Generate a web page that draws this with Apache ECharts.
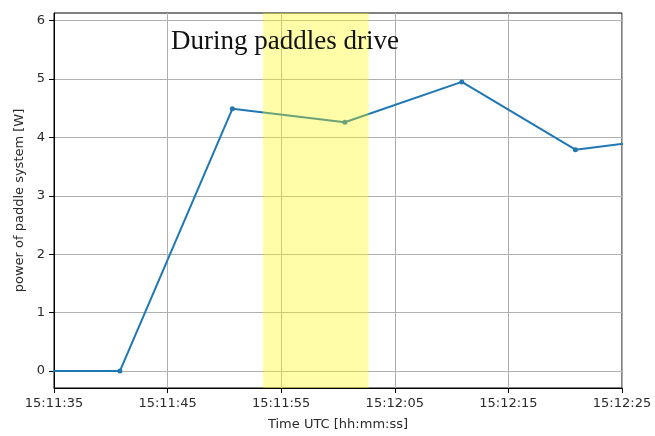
<!DOCTYPE html>
<html>
<head>
<meta charset="utf-8">
<script src="https://cdn.jsdelivr.net/npm/echarts@6/dist/echarts.min.js"></script>
<style>html,body{margin:0;padding:0;background:#fff;}#c{width:655px;height:436px;}</style>
</head>
<body>
<div id="c"></div>
<script>
// Data
var baseTime = "15:11:35";
var times = ["15:11:30.8", "15:11:40.8", "15:11:50.7", "15:12:00.6", "15:12:10.9", "15:12:20.9", "15:12:30.8"];
var power = [0, 0, 4.49, 4.26, 4.95, 3.79, 4.03];
var driveStart = "15:11:53.4";
var driveEnd = "15:12:02.7";
var xTicks = [0, 10, 20, 30, 40, 50];
var yTicks = [0, 1, 2, 3, 4, 5, 6];
var annotation = "During paddles drive";

function toSec(s) {
  var p = s.split(":");
  return (+p[0]) * 3600 + (+p[1]) * 60 + parseFloat(p[2]);
}
var base = toSec(baseTime);
function rel(s) { return +(toSec(s) - base).toFixed(2); }
function fmt(v) {
  var t = Math.round(base + v);
  var h = Math.floor(t / 3600), m = Math.floor((t % 3600) / 60), s = t % 60;
  function z(n) { return (n < 10 ? "0" : "") + n; }
  return z(h) + ":" + z(m) + ":" + z(s);
}
var seriesData = times.map(function (t, i) { return [rel(t), power[i]]; });

var chart = echarts.init(document.getElementById('c'), null, { renderer: 'canvas' });
var labelFont = { fontFamily: 'DejaVu Sans', fontSize: 13, color: '#2a2a2a' };
chart.setOption({
  animation: false,
  backgroundColor: '#fff',
  grid: { left: 54, right: 33, top: 13, bottom: 48, show: true, borderColor: '#000', borderWidth: 1, backgroundColor: 'transparent' },
  xAxis: {
    type: 'value', min: 0, max: 50, interval: 10,
    name: 'Time UTC [hh:mm:ss]', nameLocation: 'middle', nameGap: 30,
    nameTextStyle: { fontFamily: 'DejaVu Sans', fontSize: 13, color: '#2a2a2a' },
    axisLine: { show: true, onZero: false, lineStyle: { color: '#000', width: 1 } },
    axisTick: { show: true, length: 5, lineStyle: { color: '#000' }, customValues: xTicks },
    axisLabel: Object.assign({ margin: 9, formatter: function (v) { return fmt(v); }, customValues: xTicks }, labelFont),
    splitLine: { show: true, lineStyle: { color: '#b0b0b0', width: 1 } }
  },
  yAxis: {
    type: 'value', min: -0.29, max: 6.13,
    name: 'power of paddle system [W]', nameLocation: 'middle', nameGap: 26,
    nameTextStyle: { fontFamily: 'DejaVu Sans', fontSize: 13, color: '#2a2a2a' },
    axisLine: { show: true, onZero: false, lineStyle: { color: '#000', width: 1 } },
    axisTick: { show: true, length: 5, lineStyle: { color: '#000' }, customValues: yTicks },
    axisLabel: Object.assign({ margin: 9, customValues: yTicks, formatter: function (v) { return String(v); } }, labelFont),
    splitLine: { show: true, lineStyle: { color: '#b0b0b0', width: 1 } }
  },
  series: [
    {
      type: 'line', data: seriesData, clip: true, z: 3,
      symbol: 'circle', symbolSize: 5,
      lineStyle: { color: '#1f77b4', width: 2 },
      itemStyle: { color: '#1f77b4' }
    },
    {
      type: 'line', data: [], z: 10,
      markArea: {
        silent: true, z: 10,
        itemStyle: { color: 'rgba(255,248,0,0.34)' },
        data: [[{ xAxis: rel(driveStart) }, { xAxis: rel(driveEnd) }]]
      }
    }
  ],
  graphic: [{
    type: 'text', left: 171, top: 28, z: 100,
    style: { text: annotation, font: '27px "Liberation Serif"', fill: '#111' }
  }]
});
</script>
</body>
</html>
